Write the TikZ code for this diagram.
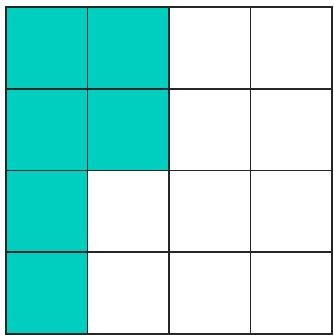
\documentclass[tikz,border=0pt]{standalone}
\begin{document}
\begin{tikzpicture}[x=1pt,y=-1pt,
  cell/.style={draw=black!85,line width=1.6pt,minimum width=81.5pt,minimum height=81.75pt,inner sep=0pt,outer sep=0pt,anchor=north west},
  filled/.style={cell,fill=tealfill},
]
\definecolor{tealfill}{RGB}{0,206,190}
\useasboundingbox (0,0) rectangle (333,335);
\foreach \r in {0,...,3}{
  \foreach \c in {0,...,3}{
    \pgfmathsetmacro{\xx}{6+\c*81.5}
    \pgfmathsetmacro{\yy}{7+\r*81.75}
    \ifnum\c=0
      \node[filled] (c\r\c) at (\xx,\yy) {};
    \else\ifnum\c=1 \ifnum\r<2
      \node[filled] (c\r\c) at (\xx,\yy) {};
    \else
      \node[cell] (c\r\c) at (\xx,\yy) {};
    \fi\else
      \node[cell] (c\r\c) at (\xx,\yy) {};
    \fi\fi
  }
}
\end{tikzpicture}
\end{document}
